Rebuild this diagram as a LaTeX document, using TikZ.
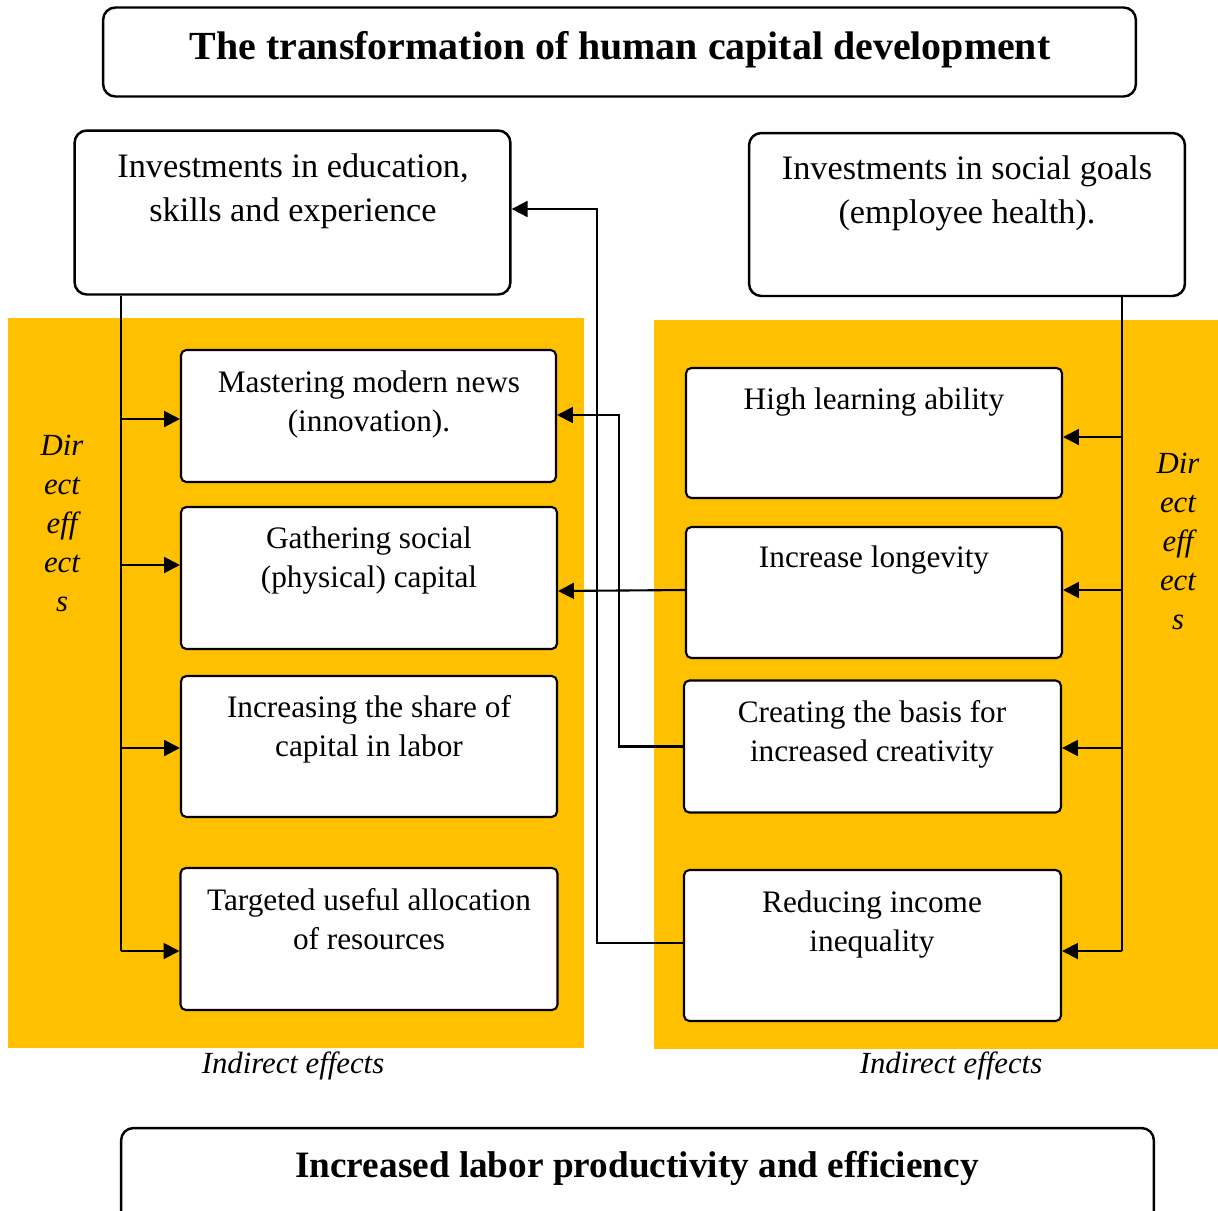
\documentclass[tikz,border=0pt]{standalone}
\usepackage{fontspec}
\setmainfont{Liberation Serif}
\usetikzlibrary{arrows.meta}
\definecolor{panel}{HTML}{FFC000}

\begin{document}
\begin{tikzpicture}[x=0.02cm,y=-0.02cm,
  head/.style={draw,line width=1.4pt,rounded corners=7pt,fill=white},
  item/.style={draw,line width=1.2pt,rounded corners=3pt,fill=white},
  txt/.style={anchor=north,inner sep=0pt,align=center,font=\fontsize{17.8}{22.2}\selectfont},
  bigtxt/.style={anchor=north,inner sep=0pt,align=center,font=\fontsize{19.5}{25}\selectfont},
  titletxt/.style={anchor=north,inner sep=0pt,font=\fontsize{22.7}{27}\selectfont\bfseries},
  effect/.style={anchor=north,inner sep=0pt,align=center,font=\fontsize{17.5}{22.2}\selectfont\itshape},
  link/.style={line width=1.2pt},
  arr/.style={link,-{Triangle[length=9pt,width=9pt]}}]
\useasboundingbox (0,0) rectangle (1218,1211);

% panels
\fill[panel] (8,318) rectangle (584,1048);
\fill[panel] (654,320) rectangle (1218,1049);

% top and bottom
\node[head,minimum width=20.66cm,minimum height=1.78cm] (title) at (619.5,52) {};
\node[titletxt] (titlet) at (620,31) {The transformation of human capital development};
\node[head,minimum width=20.66cm,minimum height=2.4cm] (prod) at (637.5,1188) {};
\node[titletxt,font=\fontsize{21.2}{26}\selectfont\bfseries] (prodt) at (637,1151) {Increased labor productivity and efficiency};

% investments
\node[head,minimum width=8.72cm,minimum height=3.28cm] (edu) at (292.5,212.5) {};
\node[bigtxt] (edut) at (293,153) {Investments in education,\\skills and experience};
\node[head,minimum width=8.72cm,minimum height=3.26cm] (soc) at (967,214.5) {};
\node[bigtxt] (soct) at (967,155) {Investments in social goals\\(employee health).};

% left effects
\node[item,minimum width=7.5cm,minimum height=2.64cm] (l1) at (368.5,416) {};
\node[txt] (l1t) at (369,370) {Mastering modern news\\(innovation).};
\node[item,minimum width=7.52cm,minimum height=2.84cm] (l2) at (369,578) {};
\node[txt] (l2t) at (369,526) {Gathering social\\(physical) capital};
\node[item,minimum width=7.52cm,minimum height=2.82cm] (l3) at (369,746.5) {};
\node[txt] (l3t) at (369,695) {Increasing the share of\\capital in labor};
\node[item,minimum width=7.54cm,minimum height=2.84cm] (l4) at (369,939) {};
\node[txt] (l4t) at (369,888) {Targeted useful allocation\\of resources};

% right effects
\node[item,minimum width=7.52cm,minimum height=2.6cm] (r1) at (874,433) {};
\node[txt] (r1t) at (874,387) {High learning ability};
\node[item,minimum width=7.52cm,minimum height=2.62cm] (r2) at (874,592.5) {};
\node[txt] (r2t) at (874,545) {Increase longevity};
\node[item,minimum width=7.54cm,minimum height=2.64cm] (r3) at (872.5,746.5) {};
\node[txt] (r3t) at (872,700) {Creating the basis for\\increased creativity};
\node[item,minimum width=7.54cm,minimum height=3.02cm] (r4) at (872.5,945.5) {};
\node[txt] (r4t) at (872,890) {Reducing income\\inequality};

% labels
\node[effect] (dirl) at (62,435) {Dir\\ect\\eff\\ect\\s};
\node[effect] (dirr) at (1178,453) {Dir\\ect\\eff\\ect\\s};
\node[effect] (indl) at (293,1051) {Indirect effects};
\node[effect] (indr) at (951,1051) {Indirect effects};

% direct effects
\coordinate (lend) at (121,951);
\coordinate (rend) at (1122,951);
\draw[link] (edu.south -| lend) -- (lend);
\draw[link] (soc.south -| rend) -- (rend);
\foreach \b/\y in {l1/419,l2/565,l3/748,l4/951}
  \draw[arr] (lend |- 0,\y) -- (\b.west |- 0,\y);
\foreach \b/\y in {r1/437,r2/590,r3/748,r4/951}
  \draw[arr] (rend |- 0,\y) -- (\b.east |- 0,\y);

% cross links
\draw[arr] (r4.west |- 0,943) -- ++(-86,0) |- (edu.east |- 0,209);
\draw[arr] (r3.west) -- ++(-64,0) |- (l1.east |- 0,415);
\draw[arr] (r2.west |- 0,590) -- (l2.east |- 0,591);

\end{tikzpicture}
\end{document}
